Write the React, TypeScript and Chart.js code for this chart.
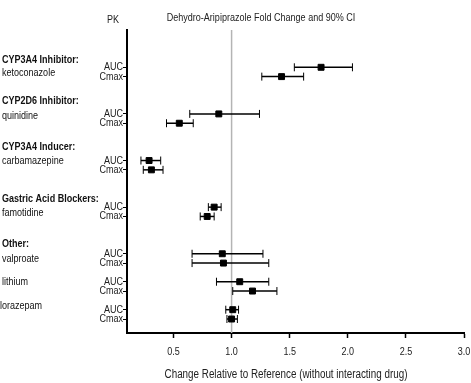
import React, { useEffect, useRef } from "react";
import { Chart, registerables } from "chart.js";

Chart.register(...registerables);

// ---- Data ----
const drugs = ["ketoconazole", "quinidine", "carbamazepine", "famotidine", "valproate", "lithium", "lorazepam"];
const groups = ["CYP3A4 Inhibitor:", "CYP2D6 Inhibitor:", "CYP3A4 Inducer:", "Gastric Acid Blockers:", "Other:"];
const groupRows = [-0.8, 3.6, 8.5, 14.1, 18.9];
const drugLabelRows = [0.6, 5.2, 10.1, 15.65, 20.55, 23.0, 25.6];
const aucRows = [0, 5, 10, 15, 20, 23, 26];
const cmaxRows = [1, 6, 11, 16, 21, 24, 27];
const aucEst = [1.77, 0.89, 0.29, 0.85, 0.92, 1.07, 1.01];
const aucLow = [1.54, 0.64, 0.22, 0.8, 0.66, 0.87, 0.95];
const aucHigh = [2.04, 1.24, 0.39, 0.91, 1.27, 1.32, 1.06];
const cmaxEst = [1.43, 0.55, 0.31, 0.79, 0.93, 1.18, 1.0];
const cmaxLow = [1.26, 0.44, 0.24, 0.73, 0.66, 1.01, 0.96];
const cmaxHigh = [1.62, 0.67, 0.41, 0.85, 1.32, 1.39, 1.05];
const xTicks = [0.5, 1.0, 1.5, 2.0, 2.5, 3.0];
const refValue = 1.0;

const FONT = "'Liberation Sans', Arial, sans-serif";
const NARROW = 0.82;

function narrowText(ctx: any, text: string, x: number, y: number, align: string, font: string, color: string) {
  ctx.save();
  ctx.font = font;
  ctx.fillStyle = color;
  ctx.textAlign = align;
  ctx.textBaseline = "middle";
  ctx.translate(x, y);
  ctx.scale(NARROW, 1);
  ctx.fillText(text, 0, 0);
  ctx.restore();
}

const errorBarPlugin = {
  id: "errorBars",
  beforeDatasetsDraw(chart: any) {
    const { ctx, chartArea, scales } = chart;
    const xs = scales.x;
    const ys = scales.y;
    ctx.save();
    const rx = xs.getPixelForValue(refValue);
    ctx.strokeStyle = "#b4b4b4";
    ctx.lineWidth = 1.5;
    ctx.beginPath();
    ctx.moveTo(rx, chartArea.top);
    ctx.lineTo(rx, chartArea.bottom);
    ctx.stroke();

    const drawBar = (row: number, lo: number, hi: number) => {
      const y = ys.getPixelForValue(row);
      const x1 = xs.getPixelForValue(lo);
      const x2 = xs.getPixelForValue(hi);
      ctx.strokeStyle = "#000";
      ctx.lineWidth = 1.5;
      ctx.beginPath();
      ctx.moveTo(x1, y);
      ctx.lineTo(x2, y);
      ctx.stroke();
      ctx.lineWidth = 1;
      ctx.beginPath();
      ctx.moveTo(x1, y - 4);
      ctx.lineTo(x1, y + 4);
      ctx.moveTo(x2, y - 4);
      ctx.lineTo(x2, y + 4);
      ctx.stroke();
    };
    for (let i = 0; i < drugs.length; i++) {
      drawBar(aucRows[i], aucLow[i], aucHigh[i]);
      drawBar(cmaxRows[i], cmaxLow[i], cmaxHigh[i]);
    }
    ctx.restore();
  },
};

const textPlugin = {
  id: "texts",
  afterDraw(chart: any) {
    const { ctx, chartArea, scales } = chart;
    const ys = scales.y;
    const xs = scales.x;
    const reg = `11px ${FONT}`;
    const bold = `bold 11px ${FONT}`;
    groups.forEach((g, i) => {
      narrowText(ctx, g, 2, ys.getPixelForValue(groupRows[i]), "left", bold, "#111");
    });
    drugs.forEach((d, i) => {
      narrowText(ctx, d, i === drugs.length - 1 ? 0 : 2, ys.getPixelForValue(drugLabelRows[i]), "left", reg, "#111");
    });
    ys.ticks.forEach((t: any) => {
      const label = aucRows.includes(t.value) ? "AUC" : "Cmax";
      narrowText(ctx, label, chartArea.left - 4, ys.getPixelForValue(t.value), "right", reg, "#222");
    });
    xs.ticks.forEach((t: any) => {
      narrowText(ctx, Number(t.value).toFixed(1), xs.getPixelForValue(t.value), chartArea.bottom + 19, "center", reg, "#222");
    });
    narrowText(ctx, "PK", 113, 20, "center", reg, "#222");
    narrowText(ctx, "Dehydro-Aripiprazole Fold Change and 90% CI", 261, 18, "center", reg, "#222");
    narrowText(ctx, "Change Relative to Reference (without interacting drug)", 286, 375, "center", `12px ${FONT}`, "#222");
  },
};

export default function App() {
  const ref = useRef<HTMLCanvasElement | null>(null);
  useEffect(() => {
    if (!ref.current) return;
    const chart = new Chart(ref.current, {
      type: "scatter",
      data: {
        datasets: [
          {
            label: "AUC",
            data: aucEst.map((v, i) => ({ x: v, y: aucRows[i] })),
            pointStyle: "rect",
            pointRadius: 4.2,
            backgroundColor: "#000",
            borderColor: "#000",
            borderWidth: 1,
          },
          {
            label: "Cmax",
            data: cmaxEst.map((v, i) => ({ x: v, y: cmaxRows[i] })),
            pointStyle: "rect",
            pointRadius: 4.2,
            backgroundColor: "#000",
            borderColor: "#000",
            borderWidth: 1,
          },
        ],
      },
      options: {
        responsive: false,
        animation: false,
        devicePixelRatio: 1,
        layout: { padding: { top: 30, right: 7, left: 0, bottom: 0 } },
        plugins: { legend: { display: false }, tooltip: { enabled: false } },
        scales: {
          x: {
            type: "linear",
            min: 0.1,
            max: 3.0,
            afterBuildTicks: (s: any) => {
              s.ticks = xTicks.map((v) => ({ value: v }));
            },
            afterFit: (s: any) => {
              s.height = 50;
            },
            ticks: { display: false, autoSkip: false },
            grid: { drawOnChartArea: false, drawTicks: true, tickLength: 5, color: "#000", tickWidth: 1.5 },
            border: { display: true, color: "#000", width: 2 },
          },
          y: {
            type: "linear",
            reverse: true,
            min: -4,
            max: 28.5,
            afterBuildTicks: (s: any) => {
              s.ticks = [...aucRows, ...cmaxRows].sort((a, b) => a - b).map((v) => ({ value: v }));
            },
            afterFit: (s: any) => {
              s.width = 127;
            },
            ticks: { display: false, autoSkip: false },
            grid: { drawOnChartArea: false, drawTicks: true, tickLength: 4, color: "#000", tickWidth: 1 },
            border: { display: true, color: "#000", width: 2 },
          },
        },
      },
      plugins: [errorBarPlugin, textPlugin],
    });
    return () => chart.destroy();
  }, []);
  return (
    <div style={{ position: "fixed", left: 0, top: 0, width: 471, height: 383, background: "#fff" }}>
      <canvas ref={ref} width={471} height={383} style={{ width: 471, height: 383 }} />
    </div>
  );
}
